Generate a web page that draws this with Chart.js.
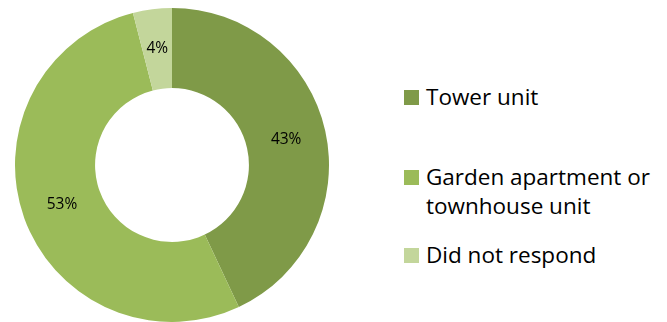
<!DOCTYPE html>
<html>
<head>
<meta charset="utf-8">
<script src="https://cdn.jsdelivr.net/npm/chart.js@4/dist/chart.umd.min.js"></script>
<style>
  html, body { margin: 0; padding: 0; background: #fff; }
  body { width: 667px; height: 322px; position: relative; overflow: hidden; font-family: "Open Sans", Lato, sans-serif; }
  #wrap { position: absolute; left: 15px; top: 8px; width: 314px; height: 314px; }
  #legend { position: absolute; left: 404px; top: 0; }
  .item { position: absolute; left: 0; display: flex; align-items: flex-start; white-space: nowrap; }
  .sw { width: 15px; height: 15px; margin-right: 7px; flex: none; }
  .txt { font-size: 22.5px; line-height: 29px; color: #000; }
</style>
</head>
<body>
<div id="wrap"><canvas id="c" width="314" height="314"></canvas></div>
<div id="legend"></div>
<script>
// Housing type breakdown
const categories = ["Tower unit", ["Garden apartment or", "townhouse unit"], "Did not respond"];
const shares = [43, 53, 4];
const colors = ["#7F9A48", "#9BBB59", "#C3D69B"];
// legend row tops (px)
const legendTops = [82, 162, 240];

// percentage labels placed at the middle of each ring segment
const sliceLabels = {
  id: 'sliceLabels',
  afterDatasetsDraw(chart) {
    const ctx = chart.ctx;
    const meta = chart.getDatasetMeta(0);
    ctx.save();
    ctx.font = '15.5px "Open Sans", Lato, sans-serif';
    ctx.fillStyle = '#000';
    ctx.textAlign = 'center';
    ctx.textBaseline = 'middle';
    meta.data.forEach((arc, i) => {
      const p = arc.getCenterPoint();
      ctx.fillText(chart.data.datasets[0].data[i] + '%', p.x, p.y);
    });
    ctx.restore();
  }
};

new Chart(document.getElementById('c'), {
  type: 'doughnut',
  data: {
    labels: categories.map(c => Array.isArray(c) ? c.join(' ') : c),
    datasets: [{ data: shares, backgroundColor: colors, borderWidth: 0, hoverOffset: 0 }]
  },
  options: {
    responsive: false,
    animation: false,
    cutout: '49%',
    layout: { padding: 0 },
    plugins: { legend: { display: false }, tooltip: { enabled: false } }
  },
  plugins: [sliceLabels]
});

// legend built from the same arrays
const lg = document.getElementById('legend');
categories.forEach((c, i) => {
  const item = document.createElement('div');
  item.className = 'item';
  item.style.top = legendTops[i] + 'px';
  const sw = document.createElement('div');
  sw.className = 'sw';
  sw.style.background = colors[i];
  sw.style.marginTop = '8px';
  const t = document.createElement('div');
  t.className = 'txt';
  (Array.isArray(c) ? c : [c]).forEach(line => {
    const d = document.createElement('div');
    d.textContent = line;
    t.appendChild(d);
  });
  item.appendChild(sw);
  item.appendChild(t);
  lg.appendChild(item);
});
</script>
</body>
</html>
